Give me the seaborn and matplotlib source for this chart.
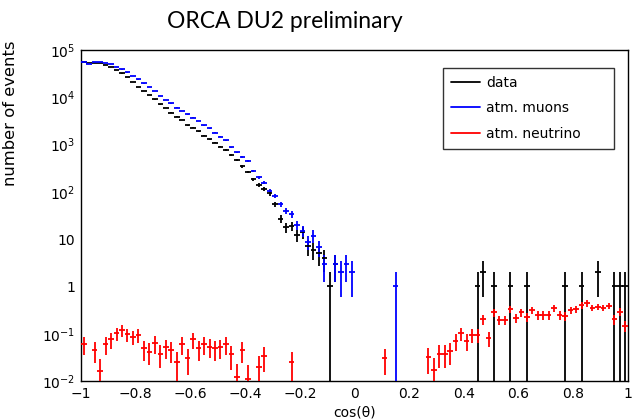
import numpy as np
import pandas as pd
import matplotlib
matplotlib.use("Agg")
import matplotlib.pyplot as plt
from matplotlib.lines import Line2D
from matplotlib.ticker import FixedLocator, FixedFormatter, MultipleLocator, LogLocator, NullFormatter
import seaborn as sns

# 100 bins of width 0.02 in cos(theta)
bin_edges = np.linspace(-1.0, 1.0, 101)
bin_centers = 0.5 * (bin_edges[:-1] + bin_edges[1:])

data_counts = [
    55000, 52700, 53000, 53000, 48000, 43500, 38300, 32000, 26700, 21300,
    16400, 13500, 11200, 9000, 7100, 5900, 4750, 3880, 3300, 2580,
    2260, 1930, 1535, 1306, 1090, 898, 765, 600, 470, 345,
    262, 186, 139, 115, 93, 55, 27, 18, 19, 12,
    14, 7, 6, 5, 4, 1, 3, 0, 0, 0,
    0, 0, 0, 0, 0, 0, 0, 0, 0, 0,
    0, 0, 0, 0, 0, 0, 0, 0, 0, 0,
    0, 0, 1, 2, 0, 1, 0, 0, 1, 0,
    0, 1, 0, 0, 0, 0, 0, 0, 1, 0,
    0, 1, 0, 0, 2, 0, 0, 1, 1, 1,
]

muon_counts = [
    57000, 50400, 54500, 56200, 53300, 49600, 43500, 38800, 33500, 28000,
    23900, 19600, 16400, 13500, 10700, 8850, 7400, 6050, 5100, 4340,
    3700, 3150, 2580, 2200, 1780, 1460, 1230, 870, 684, 544,
    440, 280, 203, 156, 105, 81.5, 55, 40, 34, 19.9,
    14.8, 8.8, 11.8, 6.7, 3.0, 0, 3.0, 2.0, 3.0, 2.0,
    0, 0, 0, 0, 0, 0, 0, 1.0, 0, 0,
    0, 0, 0, 0, 0, 0, 0, 0, 0, 0,
    0, 0, 0, 0, 0, 0, 0, 0, 0, 0,
    0, 0, 0, 0, 0, 0, 0, 0, 0, 0,
    0, 0, 0, 0, 0, 0, 0, 0, 0, 0,
]

neutrino_counts = [
    0.060, 0, 0.045, 0.0163, 0.060, 0.076, 0.102, 0.120, 0.097, 0.086,
    0.094, 0.049, 0.042, 0.063, 0.038, 0.052, 0.045, 0.0256, 0.061, 0.031,
    0.076, 0.049, 0.060, 0.053, 0.049, 0.052, 0.060, 0.0366, 0.0123, 0.045,
    0.0109, 0, 0.020, 0.034, 0, 0, 0, 0, 0.025, 0,
    0, 0, 0, 0, 0, 0, 0, 0, 0, 0,
    0, 0, 0, 0, 0, 0.031, 0, 0, 0, 0,
    0, 0, 0, 0.0317, 0.017, 0.038, 0.038, 0.043, 0.070, 0.102,
    0.070, 0.094, 0.094, 0.201, 0.080, 0.283, 0.195, 0.195, 0.333, 0.218,
    0.283, 0.229, 0.317, 0.248, 0.248, 0.248, 0.344, 0.248, 0.237, 0.317,
    0.328, 0.404, 0.44, 0.355, 0.372, 0.355, 0.39, 0.201, 0.292, 0.146,
]

# per-event weights used for the statistical errors: err = sqrt(w * N)
sample_weights = {"data": 1.0, "atm. muons": 1.0, "atm. neutrino": 0.01}
sample_colors = {"data": "#000000", "atm. muons": "#0000ff", "atm. neutrino": "#ff0000"}
sample_values = {"data": data_counts, "atm. muons": muon_counts, "atm. neutrino": neutrino_counts}

y_tick_values = [1e-2, 1e-1, 1, 10, 1e2, 1e3, 1e4, 1e5]
y_tick_labels = ["$10^{-2}$", "$10^{-1}$", "1", "10", "$10^{2}$", "$10^{3}$", "$10^{4}$", "$10^{5}$"]
x_tick_values = [-1, -0.8, -0.6, -0.4, -0.2, 0, 0.2, 0.4, 0.6, 0.8, 1]
x_tick_labels = ["\u22121", "\u22120.8", "\u22120.6", "\u22120.4", "\u22120.2", "0", "0.2", "0.4", "0.6", "0.8", "1"]

frames = []
for name, vals in sample_values.items():
    v = np.asarray(vals, dtype=float)
    err = np.sqrt(sample_weights[name] * v)
    frames.append(pd.DataFrame({"cos": bin_centers, "count": v, "err": err, "sample": name}))
df = pd.concat(frames, ignore_index=True)
df = df[df["count"] > 0].reset_index(drop=True)

sns.set_theme(style="white")
plt.rcParams["font.family"] = ["DejaVu Sans"]
plt.rcParams["mathtext.default"] = "regular"
plt.rcParams["axes.unicode_minus"] = True

W, H = 634, 420
fig = plt.figure(figsize=(W / 100, H / 100), dpi=100)
ax_l, ax_r, ax_t, ax_b = 81, 628, 50, 381
ax = fig.add_axes([ax_l / W, 1 - ax_b / H, (ax_r - ax_l) / W, (ax_b - ax_t) / H])
ax.set_yscale("log")
ax.set_xlim(-1, 1)
ax.set_ylim(1e-2, 1e5)

lw = 1.3
for name in ["data", "atm. muons", "atm. neutrino"]:
    sub = df[df["sample"] == name]
    v = sub["count"].to_numpy()
    e = sub["err"].to_numpy()
    lower = np.where(v - e > 1e-4, e, v - 1e-4)
    ax.errorbar(sub["cos"], v, yerr=[lower, e], fmt="none",
                ecolor=sample_colors[name], elinewidth=lw, capsize=0, zorder=3)

sns.scatterplot(data=df, x="cos", y="count", hue="sample", palette=sample_colors,
                hue_order=["data", "atm. muons", "atm. neutrino"],
                marker="_", s=16, linewidth=lw, legend=False, ax=ax, zorder=4)

# axes frame and ticks
for sp in ax.spines.values():
    sp.set_color("black")
    sp.set_linewidth(1.0)
ax.xaxis.set_major_locator(FixedLocator(x_tick_values))
ax.xaxis.set_major_formatter(FixedFormatter(x_tick_labels))
ax.xaxis.set_minor_locator(MultipleLocator(0.04))
ax.yaxis.set_major_locator(FixedLocator(y_tick_values))
ax.yaxis.set_major_formatter(FixedFormatter(y_tick_labels))
ax.yaxis.set_minor_locator(LogLocator(base=10, subs=np.arange(2, 10), numticks=20))
ax.yaxis.set_minor_formatter(NullFormatter())
ax.tick_params(axis="both", which="both", direction="in", top=False, right=False,
               color="black", width=0.8, labelsize=10, labelcolor="black")
ax.tick_params(axis="x", which="major", length=7.2, pad=4)
ax.tick_params(axis="x", which="minor", length=3.6)
ax.tick_params(axis="y", which="major", length=10.8, pad=4)
ax.tick_params(axis="y", which="minor", length=5.4)

ax.set_xlabel("cos(\u03b8)", fontsize=10, color="black")
ax.xaxis.set_label_coords(0.5, -(412 - ax_b) / (ax_b - ax_t))
ax.xaxis.label.set_va("center")
ax.set_ylabel("number of events", fontsize=11.8, color="black", loc="top")
ax.yaxis.set_label_coords(-(ax_l - 11) / (ax_r - ax_l), (ax_b - 40) / (ax_b - ax_t))
ax.yaxis.label.set_va("center")

handles = [Line2D([], [], color=sample_colors[n], lw=lw) for n in sample_values]
leg = ax.legend(handles, list(sample_values), loc="upper left",
                bbox_to_anchor=((443 - ax_l) / (ax_r - ax_l), (ax_b - 71) / (ax_b - ax_t),
                                (614 - 443) / (ax_r - ax_l), 0.01),
                mode="expand", borderaxespad=0, fontsize=10, frameon=True, fancybox=False,
                handlelength=2.1, handletextpad=0.45, labelspacing=0.82, borderpad=0.58)
leg.get_frame().set_edgecolor("black")
leg.get_frame().set_linewidth(1.0)
for t in leg.get_texts():
    t.set_color("black")

fig.text(285 / W, 1 - 28 / H, "ORCA DU2 preliminary", ha="center", va="baseline",
         fontsize=16.5, family=["Lato", "DejaVu Sans"], color="black")

fig.savefig("out.png", dpi=100, facecolor="white")
